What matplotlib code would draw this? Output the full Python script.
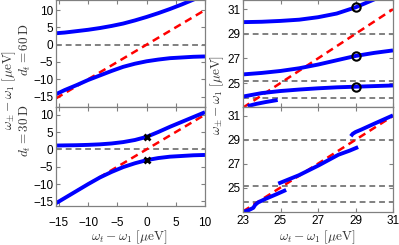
import numpy as np
import matplotlib
matplotlib.use('Agg')
import matplotlib.pyplot as plt

plt.rcParams['font.family'] = ['Liberation Sans', 'DejaVu Sans']
plt.rcParams['mathtext.fontset'] = 'cm'

# ---- data ----
# left column: detuning omega_t - omega_1 [ueV]
x_left = [-15.5, -14, -12, -10, -8, -6, -4, -2, 0, 2, 4, 6, 8, 10]
# d_t = 60 D
up_60 = [3.3, 3.5, 3.9, 4.3, 4.8, 5.4, 6.1, 7.0, 8.0, 9.1, 10.3, 11.6, 13.0, 14.5]
lo_60 = [-14.3, -13.1, -11.7, -10.2, -8.9, -7.6, -6.4, -5.5, -4.8, -4.3, -3.9, -3.7, -3.5, -3.4]
# d_t = 30 D
up_30 = [1.1, 1.15, 1.2, 1.3, 1.45, 1.7, 2.1, 2.7, 3.6, 5.0, 6.5, 7.9, 9.3, 10.7]
lo_30 = [-15.5, -14.0, -12.0, -10.0, -8.1, -6.5, -5.1, -4.0, -3.1, -2.5, -2.1, -1.9, -1.7, -1.6]
bare_left = [-15.5, 10]
level_left = [0]
cross_x = [0, 0]
cross_y = [3.6, -3.1]

# right column
x_right = [23, 24, 25, 26, 27, 28, 29, 30, 31]
br_a = [29.95, 29.98, 30.05, 30.15, 30.35, 30.65, 31.15, 31.8, 32.5]
br_b = [25.7, 25.82, 25.98, 26.2, 26.5, 26.85, 27.2, 27.45, 27.65]
br_c = [23.9, 24.18, 24.35, 24.47, 24.57, 24.65, 24.7, 24.75, 24.8]
br_d_x = [23.25, 23.7, 24.2, 24.85]
br_d_y = [23.12, 23.3, 23.45, 23.62]
circ_x = [29, 29, 29]
circ_y = [31.15, 27.2, 24.7]

seg1_x = [23.0, 23.3, 23.55, 23.65, 23.8, 24.2, 24.8, 25.3]
seg1_y = [22.95, 23.1, 23.3, 23.55, 23.75, 24.05, 24.45, 24.8]
seg2_x = [24.88, 25.98, 27.04, 28.09, 28.7, 29.14]
seg2_y = [25.33, 26.03, 26.86, 27.75, 28.1, 28.39]
seg3_x = [28.75, 28.85, 29.0, 29.3, 30.0, 31.0]
seg3_y = [29.3, 29.5, 29.65, 29.85, 30.35, 31.05]
bare_right = [23, 31]
levels_right = [23.75, 25.15, 29.0]

blue = '#0000ff'
red = '#ff0000'
grey = '#808080'
blw = 2.8

W, H = 399, 245
fig = plt.figure(figsize=(W / 100, H / 100), dpi=100)

def px_axes(x0, y0, x1, y1):
    return fig.add_axes([x0 / W, 1 - y1 / H, (x1 - x0) / W, (y1 - y0) / H])

ax_lt = px_axes(56, 0, 205, 107)
ax_lb = px_axes(56, 107, 205, 206)
ax_rt = px_axes(243, 0, 393, 107)
ax_rb = px_axes(243, 107, 393, 212)

def style(ax):
    for s in ax.spines.values():
        s.set_color(grey)
        s.set_linewidth(0.9)
    ax.tick_params(direction='in', top=True, right=True, color=grey,
                   labelsize=8.5, length=3, pad=2)

# left top
ax = ax_lt
for lv in level_left:
    ax.axhline(lv, color=grey, ls=(0, (3, 2)), lw=1.4)
ax.plot(bare_left, bare_left, color=red, ls=(0, (3, 2)), lw=1.8)
ax.plot(x_left, up_60, color=blue, lw=blw, solid_capstyle='butt')
ax.plot(x_left, lo_60, color=blue, lw=blw, solid_capstyle='butt')
ax.set_xlim(-15.5, 10)
ax.set_ylim(-18, 12.9)
ax.set_yticks([-15, -10, -5, 0, 5, 10])
ax.set_xticks([-15, -10, -5, 0, 5, 10])
ax.set_xticklabels([])
style(ax)

# left bottom
ax = ax_lb
for lv in level_left:
    ax.axhline(lv, color=grey, ls=(0, (3, 2)), lw=1.4)
ax.plot(bare_left, bare_left, color=red, ls=(0, (3, 2)), lw=1.8)
ax.plot(x_left, up_30, color=blue, lw=blw, solid_capstyle='butt')
ax.plot(x_left, lo_30, color=blue, lw=blw, solid_capstyle='butt')
ax.plot(cross_x, cross_y, 'x', color='k', ms=5, mew=2)
ax.set_xlim(-15.5, 10)
ax.set_ylim(-16.3, 12.2)
ax.set_yticks([-15, -10, -5, 0, 5, 10])
ax.set_xticks([-15, -10, -5, 0, 5, 10])
style(ax)
ax.tick_params(axis='x', pad=8)

# right top
ax = ax_rt
for lv in levels_right:
    ax.axhline(lv, color=grey, ls=(0, (3, 2)), lw=1.4)
ax.plot(bare_right, bare_right, color=red, ls=(0, (3, 2)), lw=1.8)
for yy in (br_a, br_b, br_c):
    ax.plot(x_right, yy, color=blue, lw=blw, solid_capstyle='butt')
ax.plot(br_d_x, br_d_y, color=blue, lw=blw, solid_capstyle='butt')
ax.plot(circ_x, circ_y, 'o', mfc='none', mec='k', ms=6, mew=1.5)
ax.set_xlim(23, 31)
ax.set_ylim(23.05, 31.75)
ax.set_yticks([25, 27, 29, 31])
ax.set_xticks([23, 25, 27, 29, 31])
ax.set_xticklabels([])
style(ax)

# right bottom
ax = ax_rb
for lv in levels_right:
    ax.axhline(lv, color=grey, ls=(0, (3, 2)), lw=1.4)
ax.plot(bare_right, bare_right, color=red, ls=(0, (3, 2)), lw=1.8)
for sx, sy in ((seg1_x, seg1_y), (seg2_x, seg2_y), (seg3_x, seg3_y)):
    ax.plot(sx, sy, color=blue, lw=blw, solid_capstyle='butt')
ax.set_xlim(23, 31)
ax.set_ylim(22.95, 31.75)
ax.set_yticks([25, 27, 29, 31])
ax.set_xticks([23, 25, 27, 29, 31])
style(ax)

# labels
ylab = r'$\omega_{\pm}-\omega_1\ [\mu\mathrm{eV}]$'
xlab = r'$\omega_t-\omega_1\ [\mu\mathrm{eV}]$'
tc = '#333333'
fig.text(9 / W, 1 - 90 / H, ylab, rotation=90, ha='center', va='center', fontsize=9.5, color=tc)
fig.text(25 / W, 1 - 50 / H, r'$d_t=60\,\mathrm{D}$', rotation=90, ha='center', va='center', fontsize=9.5, color=tc)
fig.text(25 / W, 1 - 131 / H, r'$d_t=30\,\mathrm{D}$', rotation=90, ha='center', va='center', fontsize=9.5, color=tc)
fig.text(217 / W, 1 - 95 / H, ylab, rotation=90, ha='center', va='center', fontsize=9.5, color=tc)
fig.text(129 / W, 1 - 237 / H, xlab, ha='center', va='center', fontsize=9.5, color=tc)
fig.text(317 / W, 1 - 237 / H, xlab, ha='center', va='center', fontsize=9.5, color=tc)

fig.savefig('out.png', dpi=100)
